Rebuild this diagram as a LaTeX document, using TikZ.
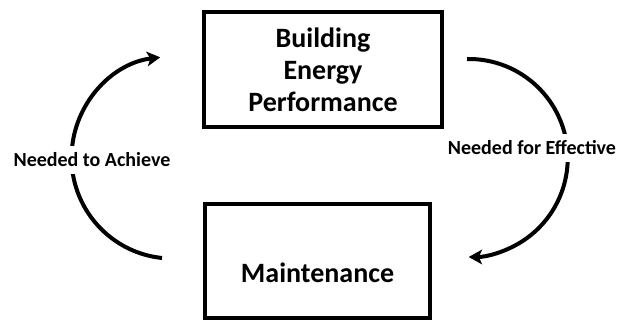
\documentclass[tikz,border=0pt]{standalone}
\usepackage{fontspec}
\setmainfont{Carlito}
\usepackage{tikz}
\usetikzlibrary{arrows.meta,positioning}

\begin{document}
\begin{tikzpicture}[x=0.75pt,y=0.75pt,
	>={Stealth[length=10pt,width=11pt,inset=2.5pt]},
	box/.style={draw,line width=3pt,inner sep=0pt},
	lbl/.style={fill=white,inner sep=5pt,font=\fontsize{15}{18}\selectfont\bfseries}]
	
	\useasboundingbox (0,0) rectangle (627,322);
	
	\node[box,minimum width=178.5pt,minimum height=86pt,align=center,
		font=\fontsize{21}{24}\selectfont\bfseries] (bep) at (323,252.5)
		{Building\\Energy\\Performance};
	\node[box,minimum width=169pt,minimum height=85.5pt] (maint) at (317.5,61) {};
	\node[font=\fontsize{21}{24}\selectfont\bfseries] (mainttxt)
		at ([yshift=-9pt]maint.center) {Maintenance};
	
	\coordinate (L) at (162,64);  % lower end of left arc
	\coordinate (R) at (467,263); % upper end of right arc
	
	\draw[->,line width=3pt] (L) arc[start angle=264,end angle=97,radius=101];
	\draw[->,line width=3pt] (R) arc[start angle=91,end angle=-90,radius=99];
	
	\node[lbl] (achieve) at (92,162) {Needed to Achieve};
	\node[lbl] (effective) at (532,174) {Needed for Effective};
	
\end{tikzpicture}
\end{document}
